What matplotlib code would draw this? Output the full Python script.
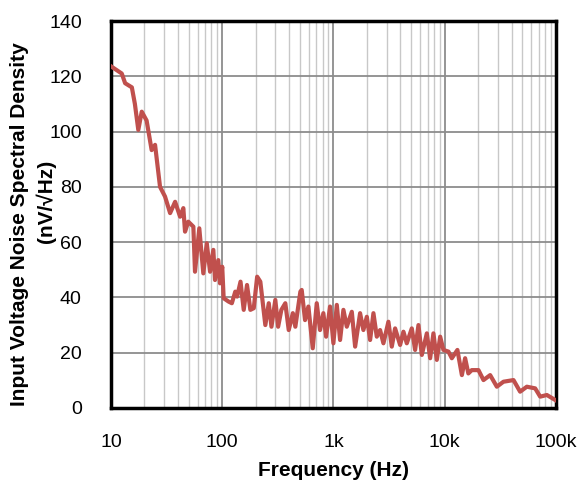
import matplotlib
matplotlib.use("Agg")
import matplotlib.pyplot as plt
from matplotlib.ticker import FixedLocator, LogLocator, NullFormatter

plt.rcParams['font.family'] = ['Liberation Sans', 'DejaVu Sans']

# frequency (Hz) and noise density (nV/rtHz)
freq = [10.1, 12.5, 13.4, 15.4, 16.4, 17.6, 18.9, 20.9, 23.2, 24.9,
        27.6, 30.6, 34.0, 37.7, 41.8, 44.7, 46.3, 49.5, 55.0, 56.9,
        62.2, 67.6, 72.6, 77.7, 83.2, 86.1, 92.2, 95.5, 100, 103,
        114, 122, 131, 136, 146, 156, 167, 179, 192, 206,
        220, 244, 262, 277, 300, 318, 340, 369, 396, 431,
        454, 504, 518, 555, 595, 651, 707, 757, 811, 858,
        931, 998, 1071, 1146, 1228, 1317, 1461, 1565, 1734, 1857,
        1994, 2134, 2286, 2450, 2624, 2811, 3117, 3342, 3580, 3971,
        4254, 4560, 5057, 5418, 5804, 6223, 6903, 7396, 7913, 8485,
        9099, 9733, 10800, 11580, 13000, 14260, 15250, 16300, 17500, 20100,
        22300, 25600, 29400, 33700, 41500, 47600, 54700, 65000, 72100, 82800,
        98400]
noise = [123.5, 121, 117.5, 116, 110, 100.6, 107.2, 104, 93.3, 95.2,
         80, 76.5, 70.5, 74.6, 69.2, 72.3, 63.8, 67.4, 65.6, 49.3,
         65, 48.7, 59.6, 49.3, 57.2, 46.3, 53.5, 45.1, 51.1, 39.7,
         38.5, 37.9, 42.1, 40.3, 45.7, 35.5, 44.5, 35.5, 36.1, 47.5,
         45.7, 30, 37.9, 29.4, 39.1, 29.4, 35.5, 37.9, 28.2, 34.3,
         29.4, 42.1, 42.7, 31.8, 36.7, 21.6, 37.9, 28.2, 34.3, 25.8,
         36.7, 23.4, 37.3, 24.6, 35.5, 29.4, 34.8, 22.2, 34.3, 28.2,
         33, 24.6, 34.3, 25.8, 28.2, 23.4, 31.2, 22.2, 28.8, 22.8,
         27.6, 23.4, 28.8, 21, 30, 19.2, 27, 18, 27, 17.4,
         25.8, 21, 20.4, 18, 21, 11.9, 18, 12.5, 13.7, 13.7,
         10.1, 11.9, 7.7, 9.5, 10.1, 5.9, 7.7, 7.1, 4.1, 4.7,
         2.9]

x_ticks = [10, 100, 1000, 10000, 100000]
x_labels = ['10', '100', '1k', '10k', '100k']
y_ticks = [0, 20, 40, 60, 80, 100, 120, 140]

fig = plt.figure(figsize=(5.82, 4.83), dpi=100)
ax = fig.add_axes([0.1907, 0.1553, 0.7646, 0.8012])

ax.semilogx(freq, noise, color='#c0504d', lw=3.0, solid_joinstyle='round', zorder=3)

ax.set_xlim(10, 100000)
ax.set_ylim(0, 140)
ax.set_xticks(x_ticks)
ax.set_xticklabels(x_labels)
ax.xaxis.set_minor_locator(LogLocator(base=10, subs=range(2, 10)))
ax.xaxis.set_minor_formatter(NullFormatter())
ax.yaxis.set_major_locator(FixedLocator(y_ticks))

ax.grid(which='major', color='#8c8c8c', lw=1.3)
ax.grid(which='minor', axis='x', color='#c8c8c8', lw=1.0)
ax.set_axisbelow(True)

ax.tick_params(which='both', length=0, labelsize=14)
ax.tick_params(axis='y', pad=21)
ax.tick_params(axis='x', pad=19)
for s in ax.spines.values():
    s.set_linewidth(2.5)
    s.set_color('black')

ax.set_xlabel('Frequency (Hz)', fontsize=15, fontweight='bold', labelpad=7)

# y title as two rotated lines, like the original
fig.text(0.034, 0.537, 'Input Voltage Noise Spectral Density', rotation=90,
         fontsize=15, fontweight='bold', ha='center', va='center')
fig.text(0.078, 0.584, '(nV/\u221aHz)', rotation=90,
         fontsize=15, fontweight='bold', ha='center', va='center')

fig.savefig('out.png', dpi=100)
